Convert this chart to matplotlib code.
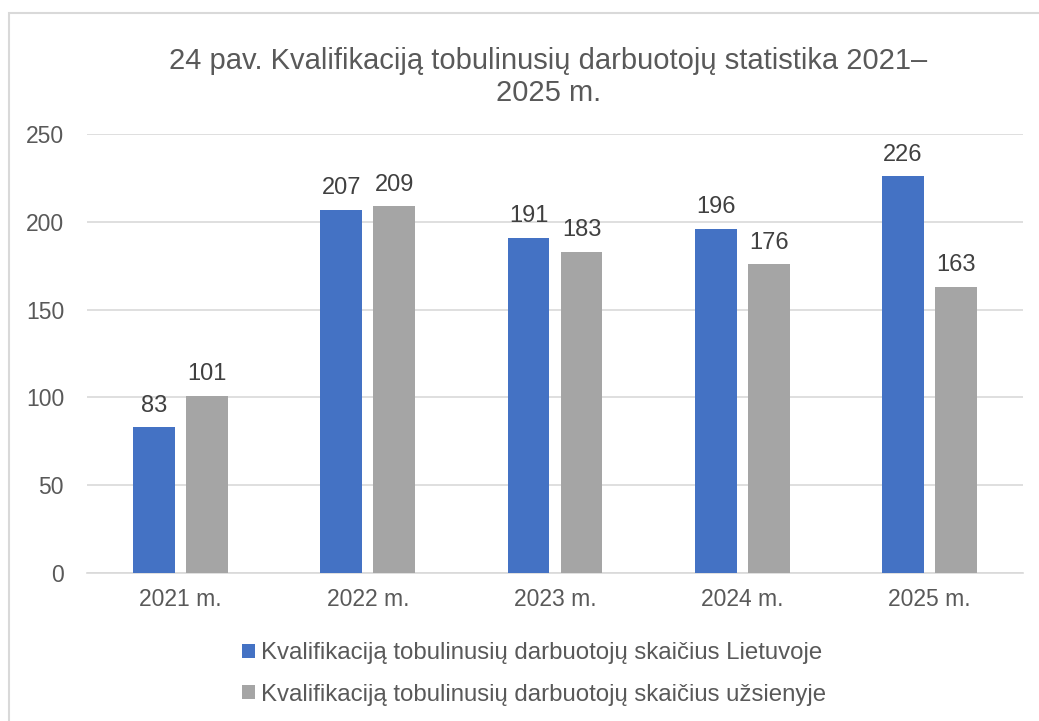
import matplotlib
matplotlib.use("Agg")
import matplotlib.pyplot as plt
import numpy as np
from matplotlib.patches import Rectangle

categories = ["2021 m.", "2022 m.", "2023 m.", "2024 m.", "2025 m."]
lietuvoje = [83, 207, 191, 196, 226]
uzsienyje = [101, 209, 183, 176, 163]
series_names = ["Kvalifikaciją tobulinusių darbuotojų skaičius Lietuvoje",
                "Kvalifikaciją tobulinusių darbuotojų skaičius užsienyje"]
title = "24 pav. Kvalifikaciją tobulinusių darbuotojų statistika 2021\u2013\n2025 m."
yticks = [0, 50, 100, 150, 200, 250]

plt.rcParams['font.family'] = ['Liberation Sans', 'DejaVu Sans']
txt = "#595959"
fs = 16.5

fig = plt.figure(figsize=(10.39, 7.21), dpi=100)
ax = fig.add_axes([87/1039, 1-573/721, (1023-87)/1039, (573-134)/721])

x = np.arange(len(categories))
w = 0.224
off = 0.1415
b1 = ax.bar(x - off, lietuvoje, w, color="#4472C4", label=series_names[0], zorder=3)
b2 = ax.bar(x + off, uzsienyje, w, color="#A5A5A5", label=series_names[1], zorder=3)
for bars in (b1, b2):
    for r in bars:
        ax.annotate(f"{int(r.get_height())}", (r.get_x() + r.get_width()/2, r.get_height()),
                    xytext=(0, 7.5), textcoords="offset points", ha="center", va="bottom",
                    fontsize=17, color="#404040")

ax.set_xlim(-0.5, len(categories) - 0.5)
ax.set_ylim(0, 250)
ax.set_yticks(yticks)
ax.set_xticks(x)
ax.set_xticklabels(categories)
ax.tick_params(axis='both', length=0, labelsize=fs, labelcolor=txt)
ax.tick_params(axis='y', pad=16.5)
ax.tick_params(axis='x', pad=11)
ax.yaxis.grid(True, color="#D9D9D9", linewidth=1.2, zorder=0)
for s in ["top", "right", "left"]:
    ax.spines[s].set_visible(False)
ax.spines["bottom"].set_color("#D9D9D9")
ax.spines["bottom"].set_linewidth(1.2)

fig.text(0.528, 1-77/721, title, ha="center", va="center", fontsize=21,
         color=txt, linespacing=1.15)

leg = fig.legend(handles=[b1, b2], loc="center", bbox_to_anchor=(534/1039, 1-674/721),
                 ncol=1, frameon=False, fontsize=17.3, labelcolor=txt,
                 handlelength=0.55, handleheight=0.55, handletextpad=0.25,
                 labelspacing=0.8)

fig.patches.append(Rectangle((9/1039, -0.1), 1.2, 1-13/721 + 0.1,
                             transform=fig.transFigure, fill=False,
                             edgecolor="#D9D9D9", linewidth=1.5))
fig.text(-0.004, 1.008, "e.", ha="left", va="center", fontsize=16, color="black")

fig.savefig("out.png", dpi=100)
